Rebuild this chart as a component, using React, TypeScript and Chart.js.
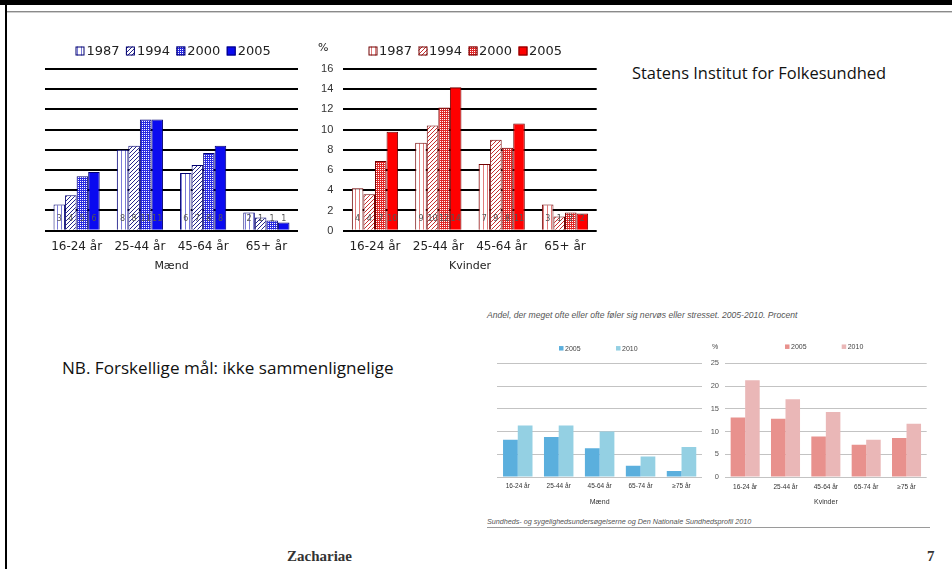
import React, { useEffect, useRef } from "react";
import { Chart, registerables } from "chart.js";
Chart.register(...registerables);

// ---------- data ----------
const oldCategories = ["16-24 år", "25-44 år", "45-64 år", "65+ år"];
const oldYears = ["1987", "1994", "2000", "2005"];
const oldYTicks = [0, 2, 4, 6, 8, 10, 12, 14, 16];
const maend1987 = [2.6, 8.0, 5.7, 1.8];
const maend1994 = [3.5, 8.4, 6.5, 1.3];
const maend2000 = [5.4, 11.0, 7.7, 1.0];
const maend2005 = [5.8, 11.0, 8.4, 0.8];
const kvinder1987 = [4.2, 8.7, 6.6, 2.6];
const kvinder1994 = [3.6, 10.4, 9.0, 1.4];
const kvinder2000 = [6.9, 12.2, 8.2, 1.8];
const kvinder2005 = [9.8, 14.2, 10.6, 1.7];

const newCategories = ["16-24 år", "25-44 år", "45-64 år", "65-74 år", "≥75 år"];
const newYears = ["2005", "2010"];
const newYTicks = [0, 5, 10, 15, 20, 25];
const maendNew2005 = [8.2, 8.8, 6.3, 2.5, 1.3];
const maendNew2010 = [11.3, 11.3, 10.0, 4.5, 6.6];
const kvinderNew2005 = [13.1, 12.8, 8.9, 7.1, 8.6];
const kvinderNew2010 = [21.3, 17.1, 14.3, 8.2, 11.7];

// ---------- helpers ----------
function makePattern(kind: string, fg: string, bg: string): any {
  const c = document.createElement("canvas");
  const g = c.getContext("2d")!;
  if (kind === "vstripe") {
    c.width = 4; c.height = 4;
    g.fillStyle = bg; g.fillRect(0, 0, 4, 4);
    g.fillStyle = fg; g.fillRect(1, 0, 1, 4);
  } else if (kind === "diag") {
    c.width = 4; c.height = 4;
    g.fillStyle = bg; g.fillRect(0, 0, 4, 4);
    g.fillStyle = fg;
    for (let i = 0; i < 4; i++) {
      g.fillRect(i, 3 - i, 1, 1);
    }
  } else if (kind === "dots") {
    c.width = 2; c.height = 2;
    g.fillStyle = fg; g.fillRect(0, 0, 2, 2);
    g.fillStyle = bg; g.fillRect(0, 0, 1, 1);
  } else {
    return fg;
  }
  return g.createPattern(c, "repeat");
}

const legendPlugin = {
  id: "slideLegend",
  afterDraw(chart: any, _a: any, o: any) {
    if (!o || o.x === undefined) return;
    const ctx = chart.ctx;
    ctx.save();
    ctx.font = o.font;
    ctx.textBaseline = "middle";
    ctx.textAlign = "left";
    chart.data.datasets.forEach((ds: any, i: number) => {
      const bx = o.x + i * o.pitch;
      const bh = o.box;
      ctx.fillStyle = ds.backgroundColor;
      ctx.fillRect(bx, o.y - bh / 2, o.box, bh);
      if (o.border) {
        ctx.strokeStyle = ds.borderColor;
        ctx.lineWidth = 1;
        ctx.strokeRect(bx + 0.5, o.y - bh / 2 + 0.5, o.box - 1, bh - 1);
      }
      ctx.fillStyle = o.color;
      ctx.fillText(ds.label, bx + o.box + o.gap, o.y + 0.5);
    });
    if (o.pctText) {
      ctx.font = o.pctFont;
      ctx.fillStyle = o.color;
      ctx.textAlign = "center";
      ctx.fillText(o.pctText, o.pctX, o.pctY);
    }
    ctx.restore();
  },
};

const valuePlugin = {
  id: "barValues",
  afterDatasetsDraw(chart: any, _a: any, o: any) {
    if (!o || !o.enabled) return;
    const ctx = chart.ctx;
    ctx.save();
    ctx.font = o.font;
    ctx.fillStyle = o.color;
    ctx.textAlign = "center";
    ctx.textBaseline = "middle";
    chart.data.datasets.forEach((ds: any, i: number) => {
      const meta = chart.getDatasetMeta(i);
      meta.data.forEach((el: any, j: number) => {
        const v = ds.data[j] as number;
        ctx.fillText(String(Math.round(v)), el.x, el.base - o.offset);
      });
    });
    ctx.restore();
  },
};

function oldConfig(
  series: number[][],
  kinds: string[],
  fg: string[],
  border: string,
  title: string,
  showY: boolean,
  yWidth: number,
  padRight: number,
  legend: any
) {
  return {
    type: "bar",
    data: {
      labels: oldCategories,
      datasets: series.map((d, i) => ({
        label: oldYears[i],
        data: d,
        backgroundColor: makePattern(kinds[i], fg[i], "#ffffff"),
        borderColor: border,
        borderWidth: 1,
        categoryPercentage: 0.73,
        barPercentage: 1,
      })),
    },
    options: {
      responsive: false,
      animation: false,
      layout: { padding: { top: 34, right: padRight, left: 0, bottom: 0 } },
      plugins: {
        legend: { display: false },
        tooltip: { enabled: false },
        slideLegend: legend,
        barValues: { enabled: true, font: "8px 'DejaVu Sans'", color: "#555", offset: 10.5 },
      },
      scales: {
        x: {
          grid: { display: false, drawTicks: false },
          border: { display: false },
          ticks: { font: { family: "DejaVu Sans", size: 12 }, color: "#222", padding: 9 },
          title: {
            display: true,
            text: title,
            font: { family: "DejaVu Sans", size: 11 },
            color: "#222",
            padding: { top: 0, bottom: 7 },
          },
          afterFit: (s: any) => { s.height = 49.3; },
        },
        y: {
          min: 0,
          max: 16,
          afterBuildTicks: (s: any) => { s.ticks = oldYTicks.map((v) => ({ value: v })); },
          ticks: {
            display: showY,
            font: { family: "Liberation Sans", size: 11 },
            color: "#333",
            padding: 10,
          },
          grid: { color: "#000", lineWidth: 2, drawTicks: false },
          border: { display: false },
          afterFit: (s: any) => { s.width = yWidth; },
        },
      },
    },
    plugins: [legendPlugin, valuePlugin],
  };
}

function newConfig(
  series: number[][],
  colors: string[],
  title: string,
  showY: boolean,
  yWidth: number,
  padRight: number,
  legend: any,
  tickPad: number
) {
  return {
    type: "bar",
    data: {
      labels: newCategories,
      datasets: series.map((d, i) => ({
        label: newYears[i],
        data: d,
        backgroundColor: colors[i],
        borderWidth: 0,
        categoryPercentage: 0.72,
        barPercentage: 1,
      })),
    },
    options: {
      responsive: false,
      animation: false,
      layout: { padding: { top: 33.3, right: padRight, left: 0, bottom: 0 } },
      plugins: {
        legend: { display: false },
        tooltip: { enabled: false },
        slideLegend: legend,
        barValues: { enabled: false },
      },
      scales: {
        x: {
          grid: { display: false, drawTicks: false },
          border: { display: false },
          ticks: { font: { family: "Liberation Sans", size: 6.5 }, color: "#333", padding: tickPad },
          title: {
            display: true,
            text: title,
            font: { family: "Liberation Sans", size: 7 },
            color: "#333",
            padding: { top: 0, bottom: 4 },
          },
          afterFit: (s: any) => { s.height = 33; },
        },
        y: {
          min: 0,
          max: 25,
          afterBuildTicks: (s: any) => { s.ticks = newYTicks.map((v) => ({ value: v })); },
          ticks: {
            display: showY,
            font: { family: "Liberation Sans", size: 7.5 },
            color: "#555",
            padding: 6,
          },
          grid: { color: "#c3c3c3", lineWidth: 1, drawTicks: false },
          border: { display: false },
          afterFit: (s: any) => { s.width = yWidth; },
        },
      },
    },
    plugins: [legendPlugin],
  };
}

function ChartCanvas(props: { left: number; top: number; width: number; height: number; build: () => any }) {
  const ref = useRef<HTMLCanvasElement | null>(null);
  useEffect(() => {
    if (!ref.current) return;
    const chart = new Chart(ref.current, props.build());
    return () => chart.destroy();
  }, []);
  return (
    <canvas
      ref={ref}
      width={props.width}
      height={props.height}
      style={{ position: "absolute", left: props.left, top: props.top, width: props.width, height: props.height }}
    />
  );
}

function Txt(props: { x: number; y: number; size: number; text: string; style?: any }) {
  return (
    <div
      style={{
        position: "absolute",
        left: props.x,
        top: props.y - 10,
        height: 20,
        lineHeight: "20px",
        fontSize: props.size,
        whiteSpace: "nowrap",
        ...props.style,
      }}
    >
      {props.text}
    </div>
  );
}

export default function App() {
  const sans = { fontFamily: "'Open Sans', sans-serif", color: "#111" };
  const small = { fontFamily: "'Liberation Sans', sans-serif", fontStyle: "italic", color: "#555" };
  const serif = { fontFamily: "'Liberation Serif', serif", fontWeight: "bold", color: "#333" };
  return (
    <div style={{ position: "absolute", left: 0, top: 0, width: 952, height: 569, background: "#fff", overflow: "hidden" }}>
      <div style={{ position: "absolute", left: 0, top: 0, width: 952, height: 5, background: "#000" }} />
      <div style={{ position: "absolute", left: 7, top: 11, width: 945, height: 1, background: "#8a8a8a" }} />
      <div style={{ position: "absolute", left: 7, top: 12, width: 945, height: 1, background: "#cfcfcf" }} />
      <div style={{ position: "absolute", left: 5, top: 0, width: 2, height: 569, background: "#000" }} />

      <ChartCanvas
        left={40}
        top={35}
        width={265}
        height={245}
        build={() =>
          oldConfig(
            [maend1987, maend1994, maend2000, maend2005],
            ["vstripe", "diag", "dots", "solid"],
            ["#7a7ad8", "#26268a", "#2a2ae0", "#0a0af0"],
            "#000070",
            "Mænd",
            false,
            5,
            7,
            { x: 35.5, y: 16, pitch: 50.4, box: 9, gap: 2, border: true, font: "13px 'DejaVu Sans'", color: "#222" }
          )
        }
      />
      <ChartCanvas
        left={310}
        top={35}
        width={295}
        height={245}
        build={() =>
          oldConfig(
            [kvinder1987, kvinder1994, kvinder2000, kvinder2005],
            ["vstripe", "diag", "dots", "solid"],
            ["#e07a7a", "#c83030", "#e02828", "#ff0000"],
            "#700000",
            "Kvinder",
            true,
            33.3,
            8.3,
            {
              x: 58.5, y: 16, pitch: 50, box: 9, gap: 1.5, border: true, font: "13px 'DejaVu Sans'", color: "#222",
              pctText: "%", pctX: 13.3, pctY: 12.7, pctFont: "11px 'DejaVu Sans'",
            }
          )
        }
      />
      <ChartCanvas
        left={490}
        top={330}
        width={215}
        height={180}
        build={() =>
          newConfig(
            [maendNew2005, maendNew2010],
            ["#5bafdd", "#94d0e3"],
            "Mænd",
            false,
            7.3,
            3,
            { x: 69, y: 18.3, pitch: 57, box: 4.5, gap: 1.5, border: false, font: "7px 'Liberation Sans'", color: "#444" },
            5.5
          )
        }
      />
      <ChartCanvas
        left={700}
        top={330}
        width={235}
        height={180}
        build={() =>
          newConfig(
            [kvinderNew2005, kvinderNew2010],
            ["#e8918d", "#eab7b7"],
            "Kvinder",
            true,
            25,
            8.3,
            {
              x: 85, y: 16.7, pitch: 56.7, box: 4.5, gap: 1.5, border: false, font: "7px 'Liberation Sans'", color: "#444",
              pctText: "%", pctX: 15, pctY: 16.7, pctFont: "7px 'Liberation Sans'",
            },
            6
          )
        }
      />

      <Txt x={632} y={73} size={16.45} text="Statens Institut for Folkesundhed" style={sans} />
      <Txt x={62} y={368} size={17.1} text="NB. Forskellige mål: ikke sammenlignelige" style={sans} />
      <Txt
        x={487}
        y={315}
        size={8.6}
        text="Andel, der meget ofte eller ofte føler sig nervøs eller stresset. 2005-2010. Procent"
        style={small}
      />
      <Txt
        x={487}
        y={522}
        size={7.2}
        text="Sundheds- og sygelighedsundersøgelserne og Den Nationale Sundhedsprofil 2010"
        style={small}
      />
      <div style={{ position: "absolute", left: 487, top: 527, width: 443, height: 1, background: "#9a9a9a" }} />
      <Txt x={287} y={556} size={15} text="Zachariae" style={serif} />
      <Txt x={927} y={556} size={15} text="7" style={serif} />
    </div>
  );
}
